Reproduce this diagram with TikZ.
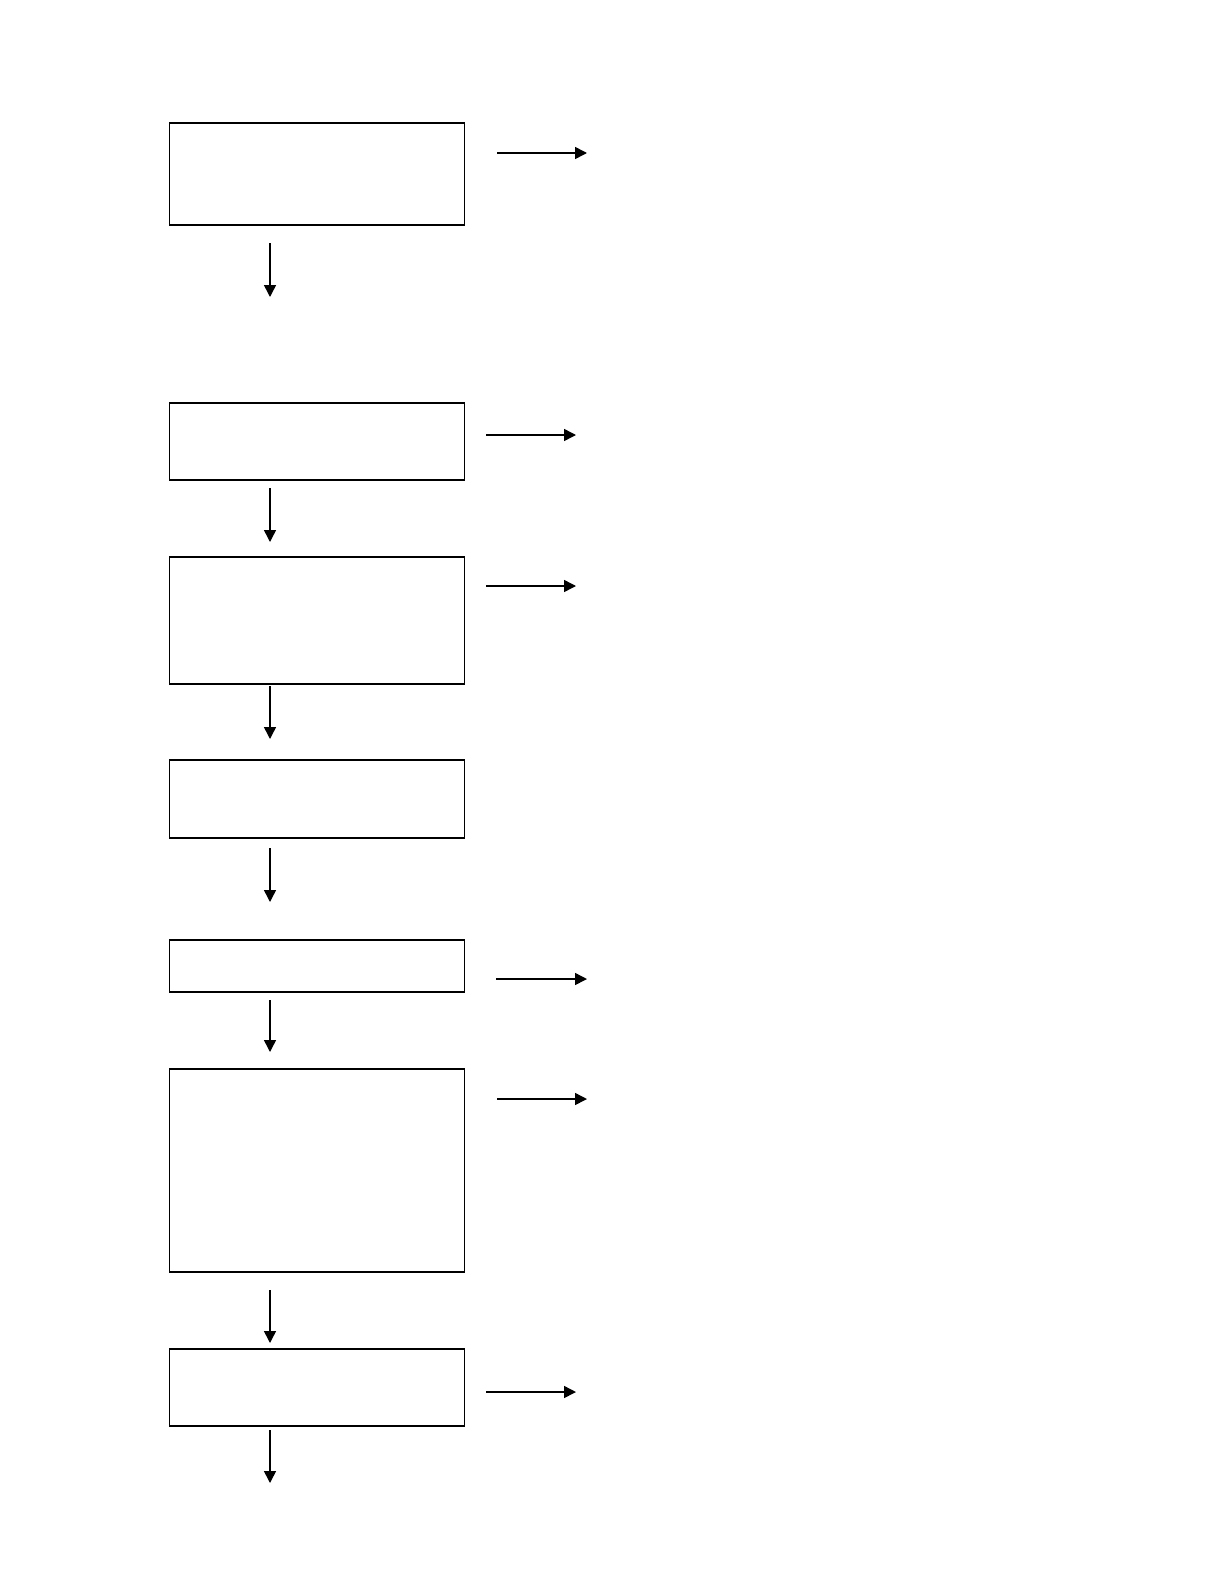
\documentclass[tikz,border=0pt]{standalone}
\usetikzlibrary{arrows.meta}
\begin{document}
\begin{tikzpicture}[x=0.5pt,y=-0.5pt,
    box/.style={draw,line width=0.75pt,inner sep=0pt,minimum width=147.5pt},
    flow/.style={line width=0.75pt,-{Triangle[length=6pt,width=6pt]}}]
  \useasboundingbox (0,0) rectangle (1224,1584);
  % boxes
  \foreach \n/\t/\b in {1/123/225, 2/403/480, 3/557/684, 4/760/838,
                        5/940/992, 6/1069/1272, 7/1349/1426}{
    \node[box,minimum height={(\b-\t)*0.5pt}] (b\n) at (317,{(\t+\b)/2}) {};
  }
  % downward arrows
  \foreach \i/\s/\e in {1/243/297, 2/488/542, 3/686/739, 4/848/902,
                        5/1000/1052, 6/1290/1343, 7/1430/1483}{
    \coordinate (ds\i) at (270,\s);
    \coordinate (de\i) at (270,\e);
    \draw[flow] (ds\i) -- (de\i);
  }
  % arrows to the right
  \foreach \i/\y/\s/\e in {1/153/497/587, 2/435/486/576, 3/586/486/576,
                           5/979/496/587, 6/1099/497/587, 7/1392/486/576}{
    \coordinate (rs\i) at (\s,\y);
    \coordinate (re\i) at (\e,\y);
    \draw[flow] (rs\i) -- (re\i);
  }
\end{tikzpicture}
\end{document}
